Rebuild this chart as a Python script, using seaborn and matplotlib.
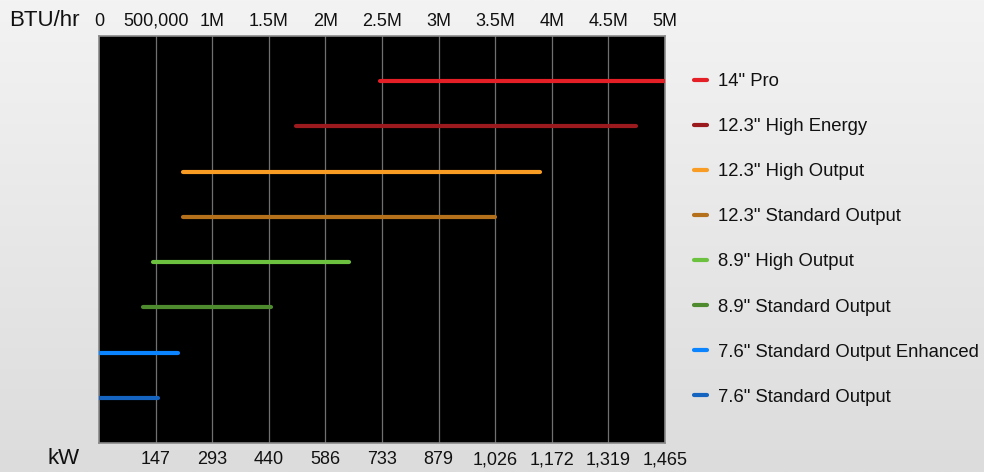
import numpy as np
import pandas as pd
import matplotlib
matplotlib.use("Agg")
import matplotlib.pyplot as plt
import seaborn as sns
from matplotlib.lines import Line2D
from matplotlib.colors import LinearSegmentedColormap

# ---- data ----
models = ['14" Pro', '12.3" High Energy', '12.3" High Output', '12.3" Standard Output',
          '8.9" High Output', '8.9" Standard Output', '7.6" Standard Output Enhanced',
          '7.6" Standard Output']
range_start_btu = [2.48e6, 1.74e6, 0.74e6, 0.74e6, 0.48e6, 0.39e6, 0.0, 0.0]
range_end_btu = [5.0e6, 4.74e6, 3.90e6, 3.50e6, 2.21e6, 1.52e6, 0.70e6, 0.52e6]
colors = ['#e41f26', '#9a1a1e', '#f89c24', '#b5701c', '#6cc23e', '#4e8a2e', '#0a84ff', '#1565c0']

btu_ticks = [0, 500000, 1000000, 1500000, 2000000, 2500000, 3000000, 3500000, 4000000, 4500000, 5000000]
btu_labels = ['0', '500,000', '1M', '1.5M', '2M', '2.5M', '3M', '3.5M', '4M', '4.5M', '5M']
kw_labels = ['', '147', '293', '440', '586', '733', '879', '1,026', '1,172', '1,319', '1,465']

# long-form table: two rows (start, end) per model
rows = []
for i, (m, s, e) in enumerate(zip(models, range_start_btu, range_end_btu)):
    rows.append({'model': m, 'btu': s, 'pos': i + 1})
    rows.append({'model': m, 'btu': e, 'pos': i + 1})
df = pd.DataFrame(rows)

sns.set_style("white")
plt.rcParams['font.family'] = ['Liberation Sans', 'DejaVu Sans']

fig = plt.figure(figsize=(9.84, 4.72), dpi=100)

# gradient background
bg = fig.add_axes([0, 0, 1, 1], zorder=-10)
grad = np.linspace(0, 1, 256).reshape(-1, 1)
cmap_bg = LinearSegmentedColormap.from_list('bg', ['#f3f3f3', '#dcdcdc'])
bg.imshow(grad, aspect='auto', cmap=cmap_bg, extent=[0, 1, 0, 1], origin='upper')
bg.set_axis_off()

ax = fig.add_axes([0.1006, 0.0614, 0.5752, 0.8623])
ax.set_facecolor('black')

palette = dict(zip(models, colors))
LW = 3.0
sns.lineplot(data=df, x='btu', y='pos', hue='model', hue_order=models, palette=palette,
             estimator=None, sort=False, linewidth=LW, solid_capstyle='round',
             legend=False, ax=ax, zorder=5)

ax.set_xlim(0, 5e6)
ax.set_ylim(9, 0)
ax.set_yticks([])
ax.set_xlabel('')
ax.set_ylabel('')

# grid
for t in btu_ticks[1:-1]:
    ax.axvline(t, color='#707070', linewidth=0.9, zorder=1)
for sp in ax.spines.values():
    sp.set_color('#8a8a8a')
    sp.set_linewidth(1.2)

# top axis (BTU/hr)
ax.xaxis.set_ticks_position('top')
ax.set_xticks(btu_ticks)
ax.set_xticklabels(btu_labels, fontsize=13, color='#111111')
ax.tick_params(axis='x', which='both', length=0, pad=4.5)

# bottom axis (kW)
sec = ax.secondary_xaxis('bottom')
sec.set_xticks(btu_ticks)
sec.set_xticklabels(kw_labels, fontsize=13, color='#111111')
sec.tick_params(axis='x', length=0, pad=6)
sec.spines['bottom'].set_visible(False)

fig.text(44.5 / 984, 1 - 20.5 / 472, 'BTU/hr', fontsize=16, ha='center', va='center', color='#111111')
fig.text(63.5 / 984, 1 - 459 / 472, 'kW', fontsize=16, ha='center', va='center', color='#111111')

handles = [Line2D([0], [0], color=c, linewidth=LW, solid_capstyle='round') for c in colors]
leg = fig.legend(handles, models, loc='upper left', bbox_to_anchor=(0.7053, 0.845),
                 frameon=False, fontsize=13.3, handlelength=0.72, handletextpad=0.6,
                 labelspacing=1.52, borderaxespad=0, borderpad=0)
for t in leg.get_texts():
    t.set_color('#111111')

fig.savefig('out.png', dpi=100)
